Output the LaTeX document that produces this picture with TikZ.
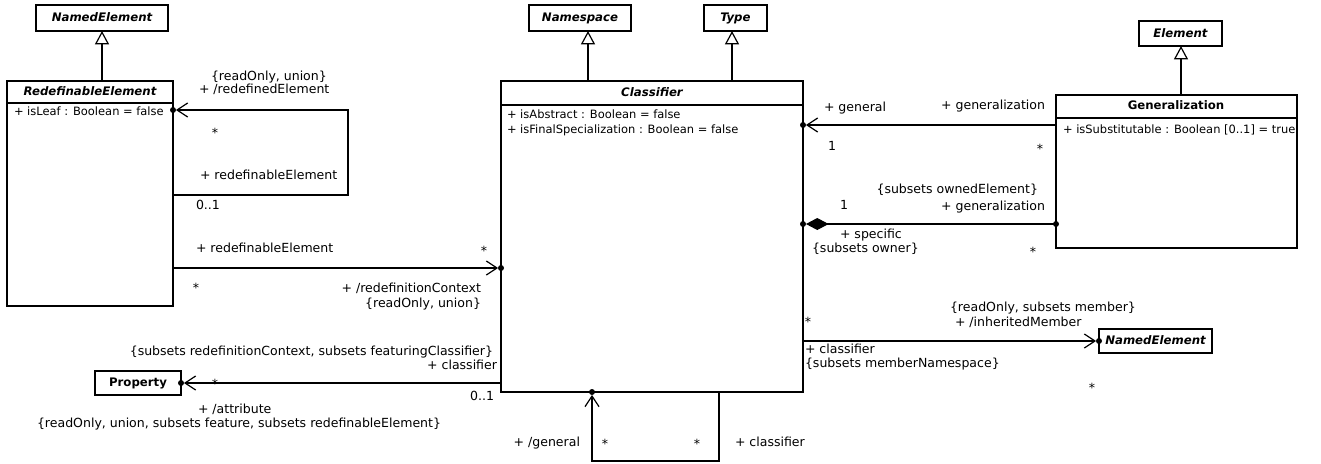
\documentclass[tikz,border=0pt]{standalone}
\usepackage{fontspec}
\setmainfont{DejaVu Sans}
\usetikzlibrary{arrows.meta}
\begin{document}
\begin{tikzpicture}[x=0.75pt,y=-0.75pt,
  every node/.style={font=\fontsize{9.4pt}{11pt}\selectfont, inner sep=0pt, outer sep=0pt},
  umlbox/.style={draw, line width=0.9pt, anchor=north west, fill=white},
  ttl/.style={anchor=mid, font=\fontsize{8.8pt}{11pt}\selectfont\bfseries},
  ttli/.style={anchor=mid, font=\fontsize{8.8pt}{11pt}\selectfont\bfseries\itshape},
  attr/.style={anchor=mid west, font=\fontsize{8.6pt}{11pt}\selectfont},
  lw/.style={anchor=mid west},
  le/.style={anchor=mid east},
  lc/.style={anchor=mid},
  gen/.style={line width=0.9pt, -{Triangle[open, length=10pt, width=10.5pt, line width=0.9pt]}},
  nav/.style={line width=0.9pt, -{Straight Barb[length=8pt, width=10.5pt, line width=0.9pt]}, shorten >=2.2pt},
  comp/.style={line width=0.9pt, {Diamond[length=17pt, width=9pt]}-, shorten <=2.2pt},
  divline/.style={line width=0.9pt}
]
\useasboundingbox (0,0) rectangle (1321,464);

% ---------- classes ----------
\node[umlbox, minimum width=99pt, minimum height=19.5pt] (ne1) at (36,5) {};
\node[ttli] (ne1t) at (ne1.center) {NamedElement};

\node[umlbox, minimum width=124.5pt, minimum height=168.75pt] (re) at (7,81) {};
\node[ttli] (ret) at (90,92) {RedefinableElement};
\draw[divline] (re.west |- 0,103) -- (re.east |- 0,103);
\node[attr] (rea) at (14,112) {+ isLeaf : Boolean = false};

\node[umlbox, minimum width=226.5pt, minimum height=233.25pt] (cl) at (501,81) {};
\node[ttli] (clt) at (652,93) {Classifier};
\draw[divline] (cl.west |- 0,105) -- (cl.east |- 0,105);
\node[attr] (cla1) at (507,115) {+ isAbstract : Boolean = false};
\node[attr] (cla2) at (507,130) {+ isFinalSpecialization : Boolean = false};

\node[umlbox, minimum width=76.5pt, minimum height=19.5pt] (ns) at (529,5) {};
\node[ttli] (nst) at (ns.center) {Namespace};

\node[umlbox, minimum width=47.25pt, minimum height=19.5pt] (ty) at (704,5) {};
\node[ttli] (tyt) at (ty.center) {Type};

\node[umlbox, minimum width=62.25pt, minimum height=18.75pt] (el) at (1139,21) {};
\node[ttli] (elt) at (el.center) {Element};

\node[umlbox, minimum width=180.75pt, minimum height=114.75pt] (gz) at (1056,95) {};
\node[ttl] (gzt) at (1176,106) {Generalization};
\draw[divline] (gz.west |- 0,118) -- (gz.east |- 0,118);
\node[attr] (gza) at (1063,130) {+ isSubstitutable : Boolean [0..1] = true};

\node[umlbox, minimum width=84.75pt, minimum height=18pt] (ne2) at (1099,329) {};
\node[ttli] (ne2t) at (ne2.center) {NamedElement};

\node[umlbox, minimum width=64.5pt, minimum height=18pt] (pr) at (95,371) {};
\node[ttl] (prt) at (pr.center) {Property};

% ---------- generalizations ----------
\draw[gen] (re.north -| ne1.south) -- (ne1.south);
\draw[gen] (cl.north -| 588,0) -- (ns.south -| 588,0);
\draw[gen] (cl.north -| 732,0) -- (ty.south -| 732,0);
\draw[gen] (gz.north -| 1181,0) -- (el.south -| 1181,0);

% ---------- RedefinableElement self association ----------
\coordinate (rl1) at (348,195);
\coordinate (rl2) at (348,110);
\draw[nav] (re.east |- rl1) -- (rl1) -- (rl2) -- (re.east |- rl2);
\fill (re.east |- rl2) circle (2.25pt);
\node[lw] at (211,77) {\{readOnly, union\}};
\node[lw] at (199,90) {+ /redefinedElement};
\node[lc] at (215,134) {*};
\node[lw] at (200,176) {+ redefinableElement};
\node[lw] at (196,206) {0..1};

% ---------- RedefinableElement -> Classifier ----------
\coordinate (rc) at (0,268);
\draw[nav] (re.east |- rc) -- (cl.west |- rc);
\fill (cl.west |- rc) circle (2.25pt);
\node[lw] at (196,249) {+ redefinableElement};
\node[lc] at (484,252) {*};
\node[lc] at (196,289) {*};
\node[le] at (481,289) {+ /redefinitionContext};
\node[le] at (481,304) {\{readOnly, union\}};

% ---------- Generalization -> Classifier (general) ----------
\coordinate (gc) at (0,125);
\draw[nav] (gz.west |- gc) -- (cl.east |- gc);
\fill (cl.east |- gc) circle (2.25pt);
\node[lw] at (824,108) {+ general};
\node[le] at (1045,106) {+ generalization};
\node[lw] at (828,147) {1};
\node[lc] at (1040,150) {*};

% ---------- composition (specific) ----------
\coordinate (sc) at (0,224);
\draw[comp] (cl.east |- sc) -- (gz.west |- sc);
\fill (cl.east |- sc) circle (2.25pt);
\fill (gz.west |- sc) circle (2.25pt);
\node[le] at (1038,190) {\{subsets ownedElement\}};
\node[le] at (1045,207) {+ generalization};
\node[lw] at (840,206) {1};
\node[lw] at (840,235) {+ specific};
\node[lw] at (812,249) {\{subsets owner\}};
\node[lc] at (1033,253) {*};

% ---------- inheritedMember ----------
\draw[nav] (cl.east |- ne2.west) -- (ne2.west);
\fill (ne2.west) circle (2.25pt);
\node[lw] at (950,308) {\{readOnly, subsets member\}};
\node[lw] at (955,323) {+ /inheritedMember};
\node[lc] at (808,323) {*};
\node[lw] at (805,350) {+ classifier};
\node[lw] at (805,364) {\{subsets memberNamespace\}};
\node[lc] at (1092,389) {*};

% ---------- attribute ----------
\draw[nav] (cl.west |- pr.east) -- (pr.east);
\fill (pr.east) circle (2.25pt);
\node[le] at (493,352) {\{subsets redefinitionContext, subsets featuringClassifier\}};
\node[le] at (497,366) {+ classifier};
\node[lc] at (215,385) {*};
\node[le] at (494,397) {0..1};
\node[lw] at (198,410) {+ /attribute};
\node[lw] at (37,424) {\{readOnly, union, subsets feature, subsets redefinableElement\}};

% ---------- Classifier self association ----------
\coordinate (cb1) at (719,461);
\coordinate (cb2) at (592,461);
\draw[nav] (cl.south -| cb1) -- (cb1) -- (cb2) -- (cl.south -| cb2);
\fill (cl.south -| cb2) circle (2.25pt);
\node[le] at (580,443) {+ /general};
\node[lc] at (605,445) {*};
\node[lc] at (697,445) {*};
\node[lw] at (735,443) {+ classifier};
\end{tikzpicture}
\end{document}
